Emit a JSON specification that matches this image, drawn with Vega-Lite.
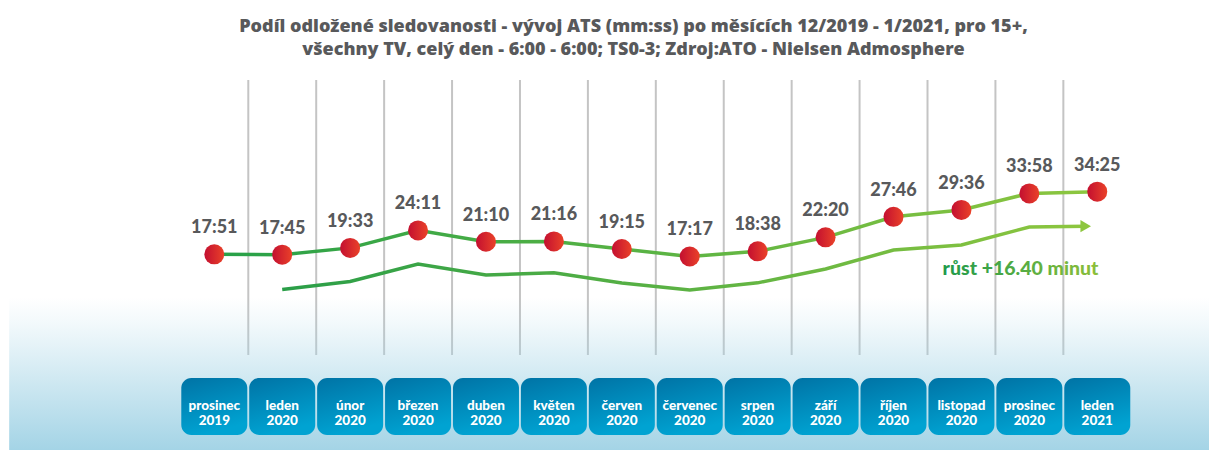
{
  "$schema": "https://vega.github.io/schema/vega-lite/v6.json",
  "width": 1209,
  "height": 450,
  "autosize": {"type": "none"},
  "padding": 0,
  "background": "white",
  "config": {"view": {"stroke": null}, "font": "Lato"},
  "title": {
    "text": ["Podíl odložené sledovanosti - vývoj ATS (mm:ss) po měsících 12/2019 - 1/2021, pro 15+,", "všechny TV, celý den  - 6:00 - 6:00; TS0-3; Zdroj:ATO - Nielsen Admosphere"],
    "anchor": "middle",
    "frame": "group",
    "orient": "top",
    "offset": -59,
    "baseline": "top",
    "dx": 29,
    "fontSize": 18,
    "font": "Open Sans",
    "fontWeight": 800,
    "color": "#58595b",
    "lineHeight": 23
  },
  "datasets": {
    "months": [
      {"i": 0, "box": "prosinec\n2019", "ats": 17.85, "lab": "17:51"},
      {"i": 1, "box": "leden\n2020", "ats": 17.75, "lab": "17:45"},
      {"i": 2, "box": "únor\n2020", "ats": 19.55, "lab": "19:33"},
      {"i": 3, "box": "březen\n2020", "ats": 24.183, "lab": "24:11"},
      {"i": 4, "box": "duben\n2020", "ats": 21.167, "lab": "21:10"},
      {"i": 5, "box": "květen\n2020", "ats": 21.267, "lab": "21:16"},
      {"i": 6, "box": "červen\n2020", "ats": 19.25, "lab": "19:15"},
      {"i": 7, "box": "červenec\n2020", "ats": 17.283, "lab": "17:17"},
      {"i": 8, "box": "srpen\n2020", "ats": 18.633, "lab": "18:38"},
      {"i": 9, "box": "září\n2020", "ats": 22.333, "lab": "22:20"},
      {"i": 10, "box": "říjen\n2020", "ats": 27.767, "lab": "27:46"},
      {"i": 11, "box": "listopad\n2020", "ats": 29.6, "lab": "29:36"},
      {"i": 12, "box": "prosinec\n2020", "ats": 33.967, "lab": "33:58"},
      {"i": 13, "box": "leden\n2021", "ats": 34.417, "lab": "34:25"}
    ],
    "trend": [
      {"i": 1, "v": 8.54},
      {"i": 2, "v": 10.65},
      {"i": 3, "v": 15.28},
      {"i": 4, "v": 12.37},
      {"i": 5, "v": 12.98},
      {"i": 6, "v": 10.26},
      {"i": 7, "v": 8.41},
      {"i": 8, "v": 10.3},
      {"i": 9, "v": 13.96},
      {"i": 10, "v": 18.99},
      {"i": 11, "v": 20.31},
      {"i": 12, "v": 25.07},
      {"i": 12.83, "v": 25.3}
    ]
  },
  "layer": [
    {
      "data": {"name": "months"},
      "transform": [{"filter": "datum.i < 13"}],
      "mark": {"type": "rule", "color": "#c4c4c4", "strokeWidth": 2, "xOffset": 34},
      "encoding": {
        "x": {"field": "i", "type": "quantitative", "scale": {"domain": [-3.155, 14.645], "nice": false, "zero": false}, "axis": null},
        "y": {"datum": 63.96, "type": "quantitative", "scale": {"domain": [-33.92, 85.13], "nice": false, "zero": false}, "axis": null},
        "y2": {"datum": -8.8}
      }
    },
    {
      "data": {"values": [{"zone": "background"}]},
      "mark": {"type": "rect", "fill": {"gradient": "linear", "x1": 0, "y1": 0, "x2": 0, "y2": 1, "stops": [{"offset": 0, "color": "rgba(166,213,230,0)"}, {"offset": 0.15, "color": "rgba(166,213,230,0.12)"}, {"offset": 1, "color": "rgba(164,212,230,1)"}]}},
      "encoding": {
        "x": {"datum": -3.02, "type": "quantitative", "scale": {"domain": [-3.155, 14.645], "nice": false, "zero": false}, "axis": null},
        "x2": {"datum": 14.645},
        "y": {"datum": 6.55, "type": "quantitative", "scale": {"domain": [-33.92, 85.13], "nice": false, "zero": false}, "axis": null},
        "y2": {"datum": -33.92}
      }
    },
    {
      "data": {"name": "trend"},
      "mark": {"type": "line", "strokeWidth": 3.5, "stroke": {"gradient": "linear", "x1": 0, "y1": 0, "x2": 1, "y2": 0, "stops": [{"offset": 0, "color": "#2a9e48"}, {"offset": 1, "color": "#8dc63f"}]}},
      "encoding": {
        "x": {"field": "i", "type": "quantitative", "scale": {"domain": [-3.155, 14.645], "nice": false, "zero": false}, "axis": null},
        "y": {"field": "v", "type": "quantitative", "scale": {"domain": [-33.92, 85.13], "nice": false, "zero": false}, "axis": null}
      }
    },
    {
      "data": {"name": "trend"},
      "transform": [{"filter": "datum.i > 12.5"}],
      "mark": {"type": "point", "shape": "triangle-right", "filled": true, "size": 150, "color": "#8dc63f", "opacity": 1},
      "encoding": {
        "x": {"field": "i", "type": "quantitative", "scale": {"domain": [-3.155, 14.645], "nice": false, "zero": false}, "axis": null},
        "y": {"field": "v", "type": "quantitative", "scale": {"domain": [-33.92, 85.13], "nice": false, "zero": false}, "axis": null}
      }
    },
    {
      "data": {"name": "months"},
      "mark": {"type": "line", "strokeWidth": 3.5, "stroke": {"gradient": "linear", "x1": 0, "y1": 0, "x2": 1, "y2": 0, "stops": [{"offset": 0, "color": "#27a048"}, {"offset": 1, "color": "#8dc63f"}]}},
      "encoding": {
        "x": {"field": "i", "type": "quantitative", "scale": {"domain": [-3.155, 14.645], "nice": false, "zero": false}, "axis": null},
        "y": {"field": "ats", "type": "quantitative", "scale": {"domain": [-33.92, 85.13], "nice": false, "zero": false}, "axis": null}
      }
    },
    {
      "data": {"name": "months"},
      "mark": {"type": "point", "shape": "circle", "filled": true, "size": 400, "opacity": 1, "strokeWidth": 0, "fill": {"gradient": "linear", "x1": 0, "y1": 0, "x2": 1, "y2": 0, "stops": [{"offset": 0, "color": "#c30f30"}, {"offset": 1, "color": "#ea4229"}]}},
      "encoding": {
        "x": {"field": "i", "type": "quantitative", "scale": {"domain": [-3.155, 14.645], "nice": false, "zero": false}, "axis": null},
        "y": {"field": "ats", "type": "quantitative", "scale": {"domain": [-33.92, 85.13], "nice": false, "zero": false}, "axis": null}
      }
    },
    {
      "data": {"name": "months"},
      "mark": {"type": "text", "dy": -21, "baseline": "alphabetic", "fontSize": 18, "fontWeight": 900, "font": "Lato", "color": "#58595b"},
      "encoding": {
        "x": {"field": "i", "type": "quantitative", "scale": {"domain": [-3.155, 14.645], "nice": false, "zero": false}, "axis": null},
        "y": {"field": "ats", "type": "quantitative", "scale": {"domain": [-33.92, 85.13], "nice": false, "zero": false}, "axis": null},
        "text": {"field": "lab"}
      }
    },
    {
      "data": {"name": "months"},
      "mark": {"type": "rect", "width": 66, "height": 57, "cornerRadius": 10, "fill": {"gradient": "linear", "x1": 0, "y1": 0, "x2": 0.3, "y2": 1, "stops": [{"offset": 0, "color": "#0073a5"}, {"offset": 1, "color": "#00a3d2"}]}},
      "encoding": {
        "x": {"field": "i", "type": "quantitative", "scale": {"domain": [-3.155, 14.645], "nice": false, "zero": false}, "axis": null},
        "y": {"datum": -22.41, "type": "quantitative", "scale": {"domain": [-33.92, 85.13], "nice": false, "zero": false}, "axis": null}
      }
    },
    {
      "data": {"name": "months"},
      "mark": {"type": "text", "lineBreak": "\n", "lineHeight": 15, "baseline": "middle", "fontSize": 13.5, "fontWeight": 900, "font": "Lato", "color": "white"},
      "encoding": {
        "x": {"field": "i", "type": "quantitative", "scale": {"domain": [-3.155, 14.645], "nice": false, "zero": false}, "axis": null},
        "y": {"datum": -22.41, "type": "quantitative", "scale": {"domain": [-33.92, 85.13], "nice": false, "zero": false}, "axis": null},
        "text": {"field": "box"}
      }
    },
    {
      "data": {"values": [{"note": "růst +16.40 minut"}]},
      "mark": {"type": "text", "baseline": "alphabetic", "align": "center", "fontSize": 19.5, "fontWeight": 900, "font": "Lato", "fill": {"gradient": "linear", "x1": 0, "y1": 0, "x2": 1, "y2": 0, "stops": [{"offset": 0, "color": "#1f9a4a"}, {"offset": 0.3, "color": "#3ea447"}, {"offset": 1, "color": "#8dbf3a"}]}},
      "encoding": {
        "x": {"datum": 11.87, "type": "quantitative", "scale": {"domain": [-3.155, 14.645], "nice": false, "zero": false}, "axis": null},
        "y": {"datum": 12.37, "type": "quantitative", "scale": {"domain": [-33.92, 85.13], "nice": false, "zero": false}, "axis": null},
        "text": {"field": "note"}
      }
    }
  ]
}
